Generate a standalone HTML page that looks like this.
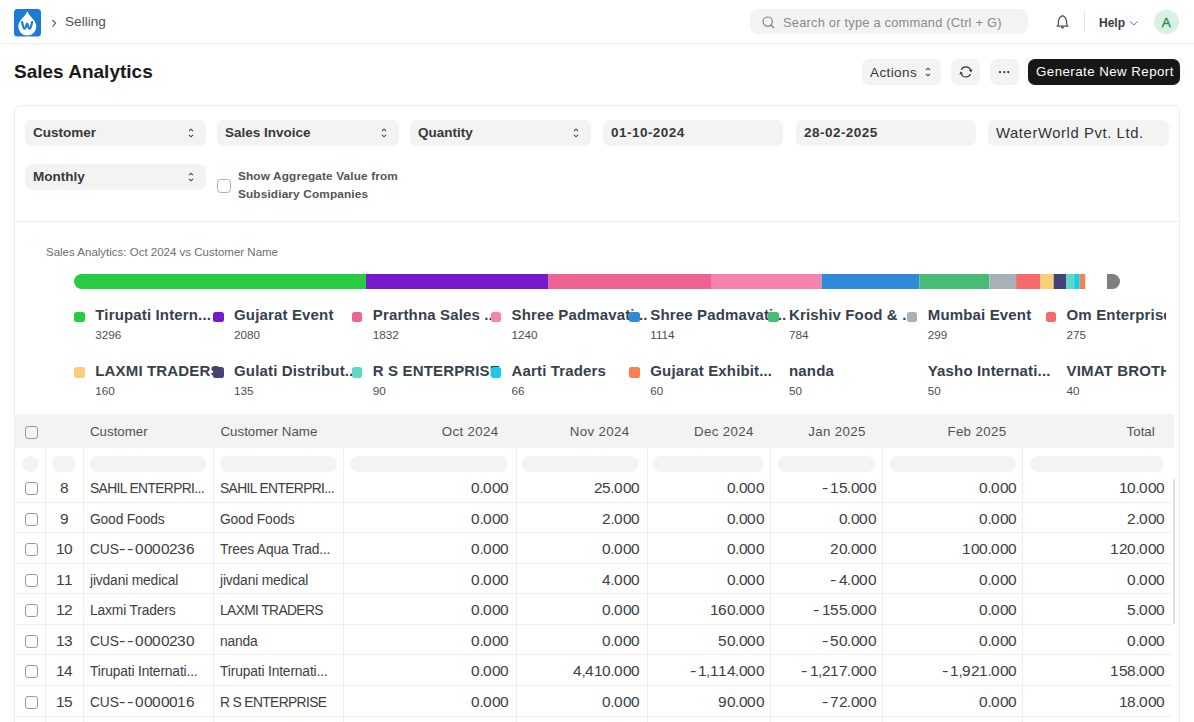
<!DOCTYPE html>
<html><head><meta charset="utf-8">
<style>
*{box-sizing:border-box;margin:0;padding:0}
html,body{width:1194px;height:722px;overflow:hidden;background:#fff;font-family:"Liberation Sans",sans-serif;color:#171717}
.a{position:absolute;white-space:nowrap}
#nav{position:absolute;left:0;top:0;width:1194px;height:44px;border-bottom:1px solid #f1f1f1;box-shadow:0 1px 2px rgba(0,0,0,.03);background:#fff}
.btn{position:absolute;background:#f3f3f3;border-radius:7px}
.card{position:absolute;left:14px;top:105px;width:1166px;height:640px;border:1px solid #ededed;border-radius:7px}
.fld{position:absolute;height:26px;background:#f3f3f3;border-radius:7px}
.fld span{position:absolute;left:8px;top:4.5px;font-size:13.5px;font-weight:bold;color:#383838}
.fld span.d{letter-spacing:.47px}
.sort{position:absolute;right:12px;top:8px;width:6px;height:10px}
.lg-sq{position:absolute;width:10.5px;height:10.5px;border-radius:2.5px}
.lg-t{position:absolute;font-size:15px;font-weight:bold;color:#36414c;white-space:nowrap;letter-spacing:.15px}
.lg-v{position:absolute;font-size:11.7px;color:#4e4e4e}
.th{position:absolute;top:424px;font-size:13.3px;color:#525252}
.hl{position:absolute;left:15px;width:1157px;height:1px;background:#efefef}
.vl{position:absolute;top:448px;width:1px;height:274px;background:#efefef}
.pill{position:absolute;top:456px;height:16px;border-radius:8px;background:#f3f3f3}
.row{position:absolute;left:15px;width:1157px;height:30px}
.c{position:absolute;font-size:13.8px;letter-spacing:-.15px;color:#404040;top:8px;white-space:nowrap}
.r{text-align:right}
.cap{letter-spacing:-.62px}
.c i{font-style:normal;display:inline-block;width:8.4px;text-align:center;transform:scaleX(1.12)}
.c i.h{transform:translateX(-1px) scaleX(1.4)}
.cb{position:absolute;left:10px;top:9px;width:13px;height:13px;border:1px solid #9a9a9a;border-radius:3px;background:#fff}
</style></head><body>
<div id="nav">
  <svg class="a" style="left:14px;top:9px" width="27" height="28" viewBox="0 0 27 28">
    <rect width="27" height="27.5" rx="3.5" fill="#1c7cd5"/>
    <path d="M13.3 2.2 C12.6 4.2 11.2 6 9.2 8.2 C6.3 11.3 4.3 14 4.3 17.6 A9 9 0 0 0 22.3 17.6 C22.3 14 20.3 11.3 17.4 8.2 C15.4 6 14 4.2 13.3 2.2 Z" fill="#fff"/>
    <path d="M8.1 13 C8.6 15.5 9.3 19.7 10.6 19.7 C11.8 19.7 12.5 15.2 13.1 14.6 C13.7 15.2 14.4 19.7 15.6 19.7 C16.9 19.7 17.6 15.5 18.1 13" fill="none" stroke="#1c7cd5" stroke-width="2.2" stroke-linecap="round" stroke-linejoin="round"/>
  </svg>
  <svg class="a" style="left:51px;top:19px" width="6" height="9" viewBox="0 0 6 9"><path d="M1.4 1 L4.6 4.3 L1.4 7.6" fill="none" stroke="#5a5a5a" stroke-width="1.15"/></svg>
  <div class="a" style="left:65px;top:14px;font-size:13.6px;color:#525252">Selling</div>
  <div class="btn" style="left:750px;top:9px;width:278px;height:25px;border-radius:8px"></div>
  <svg class="a" style="left:761px;top:15px" width="14" height="14" viewBox="0 0 14 14"><circle cx="6.7" cy="6.6" r="4.6" fill="none" stroke="#777" stroke-width="1.15"/><path d="M10.1 10.1 L12.6 12.6" stroke="#777" stroke-width="1.3" stroke-linecap="round"/></svg>
  <div class="a" style="left:783px;top:15px;font-size:12.9px;color:#8a8a8a;letter-spacing:.2px">Search or type a command (Ctrl + G)</div>
  <svg class="a" style="left:1055px;top:14px" width="16" height="16" viewBox="0 0 16 16"><path d="M3 11.9 C3.4 11 3.4 10 3.4 8 C3.4 4.8 5.2 2.6 7.5 1.6 C9.8 2.6 11.6 4.8 11.6 8 C11.6 10 11.6 11 12 11.9" fill="none" stroke="#505050" stroke-width="1.2" stroke-linejoin="round"/><path d="M1.9 12.1 H13.1" stroke="#505050" stroke-width="1.3" stroke-linecap="round"/><path d="M6.4 13.2 A1.1 1.1 0 0 0 8.6 13.2 Z" fill="#505050" stroke="#505050" stroke-width=".9"/></svg>
  <div class="a" style="left:1084px;top:12px;width:1px;height:20px;background:#e2e2e2"></div>
  <div class="a" style="left:1099px;top:16px;font-size:12px;font-weight:bold;color:#3a3a3a">Help</div>
  <svg class="a" style="left:1129px;top:20px" width="10" height="6" viewBox="0 0 10 6"><path d="M1.2 1.3 L4.9 5 L8.6 1.3" fill="none" stroke="#777" stroke-width="1"/></svg>
  <div class="a" style="left:1154px;top:9.5px;width:24.5px;height:24.5px;border-radius:50%;background:#d9f0e2;color:#2a8f52;font-size:13.5px;text-align:center;line-height:25px;-webkit-text-stroke:.35px #2a8f52">A</div>
</div>

<div class="a" style="left:14px;top:61px;font-size:19px;font-weight:bold;color:#1a1a1a">Sales Analytics</div>

<div class="btn" style="left:862px;top:59px;width:79px;height:26px"></div>
<div class="a" style="left:870px;top:64.5px;font-size:13.5px;color:#383838;letter-spacing:.4px">Actions</div>
<svg class="a" style="left:925px;top:67px" width="6" height="10" viewBox="0 0 6 10"><path d="M1 3.2 L3 1.2 L5 3.2 M1 6.8 L3 8.8 L5 6.8" fill="none" stroke="#444" stroke-width="1.1"/></svg>
<div class="btn" style="left:951px;top:59px;width:29px;height:26px"></div>
<svg class="a" style="left:958px;top:64px" width="16" height="16" viewBox="0 0 16 16"><path d="M3.28 5.74 A5.1 5.1 0 0 1 12.69 6.16 M12.52 10.06 A5.1 5.1 0 0 1 3.11 9.64" fill="none" stroke="#333" stroke-width="1.15"/><path d="M13.44 8.22 L14.38 5.22 L10.80 6.52 Z M2.36 7.58 L1.42 10.58 L5.00 9.28 Z" fill="#333"/></svg>
<div class="btn" style="left:990px;top:59px;width:29px;height:26px"></div>
<svg class="a" style="left:997px;top:70px" width="14" height="4" viewBox="0 0 14 4"><circle cx="3" cy="2.1" r="1.15" fill="#333"/><circle cx="7.3" cy="2.1" r="1.15" fill="#333"/><circle cx="11.3" cy="2.1" r="1.15" fill="#333"/></svg>
<div class="a" style="left:1028px;top:59px;width:152px;height:26px;background:#171717;border-radius:7px"></div>
<div class="a" style="left:1036px;top:64px;font-size:13.3px;color:#fff;letter-spacing:.45px">Generate New Report</div>

<div class="card"></div>
<!-- filters -->
<div class="fld" style="left:25px;top:120px;width:181px"><span>Customer</span><svg class="sort" viewBox="0 0 6 10"><path d="M1 3.2 L3 1.2 L5 3.2 M1 6.8 L3 8.8 L5 6.8" fill="none" stroke="#444" stroke-width="1.1"/></svg></div>
<div class="fld" style="left:217px;top:120px;width:182px"><span>Sales Invoice</span><svg class="sort" viewBox="0 0 6 10"><path d="M1 3.2 L3 1.2 L5 3.2 M1 6.8 L3 8.8 L5 6.8" fill="none" stroke="#444" stroke-width="1.1"/></svg></div>
<div class="fld" style="left:410px;top:120px;width:181px"><span>Quantity</span><svg class="sort" viewBox="0 0 6 10"><path d="M1 3.2 L3 1.2 L5 3.2 M1 6.8 L3 8.8 L5 6.8" fill="none" stroke="#444" stroke-width="1.1"/></svg></div>
<div class="fld" style="left:603px;top:120px;width:180px"><span class="d">01-10-2024</span></div>
<div class="fld" style="left:796px;top:120px;width:180px"><span class="d">28-02-2025</span></div>
<div class="fld" style="left:988px;top:120px;width:181px"><span style="font-weight:normal;font-size:14.8px;top:5px;color:#333;letter-spacing:.6px">WaterWorld Pvt. Ltd.</span></div>
<div class="fld" style="left:25px;top:164px;width:181px"><span>Monthly</span><svg class="sort" viewBox="0 0 6 10"><path d="M1 3.2 L3 1.2 L5 3.2 M1 6.8 L3 8.8 L5 6.8" fill="none" stroke="#444" stroke-width="1.1"/></svg></div>
<div class="a" style="left:217px;top:179px;width:13.5px;height:13.5px;border:1px solid #b0b0b0;border-radius:3.5px"></div>
<div class="a" style="left:238px;top:167px;font-size:11.8px;font-weight:bold;color:#555;line-height:18.4px;letter-spacing:.15px">Show Aggregate Value from<br>Subsidiary Companies</div>
<div class="a" style="left:15px;top:221px;width:1164px;height:1px;background:#ededed"></div>

<!-- chart -->
<div class="a" style="left:46px;top:245.5px;font-size:11.5px;color:#6e6e6e">Sales Analytics: Oct 2024 vs Customer Name</div>
<svg class="a" style="left:0;top:270.5px" width="1194" height="22">
  <defs><clipPath id="bc"><rect x="74" y="3" width="1046" height="15" rx="7.5"/></clipPath></defs>
  <g clip-path="url(#bc)">
    <rect x="74" y="3" width="292" height="15" fill="#28cc42"/>
    <rect x="366" y="3" width="182.5" height="15" fill="#761acb"/>
    <rect x="548.5" y="3" width="162.5" height="15" fill="#ec6394"/>
    <rect x="711" y="3" width="110.6" height="15" fill="#f683ae"/>
    <rect x="821.6" y="3" width="97.8" height="15" fill="#318ad8"/>
    <rect x="919.4" y="3" width="69.9" height="15" fill="#48bb74"/>
    <rect x="989.3" y="3" width="26.8" height="15" fill="#a6b1b9"/>
    <rect x="1016.1" y="3" width="23.9" height="15" fill="#f56b6b"/>
    <rect x="1040" y="3" width="13.7" height="15" fill="#facf7a"/>
    <rect x="1053.7" y="3" width="12.3" height="15" fill="#44427b"/>
    <rect x="1066" y="3" width="8.2" height="15" fill="#5fd8c4"/>
    <rect x="1074.2" y="3" width="5.5" height="15" fill="#15ccef"/>
    <rect x="1079.7" y="3" width="5.5" height="15" fill="#f8814f"/>
    <rect x="1107" y="3" width="13" height="15" fill="#7f7f7f"/>
  </g>
</svg>
<div class="a" style="left:15px;top:300px;width:1151px;height:105px;overflow:hidden"><div style="position:absolute;left:-15px;top:-300px"><div id="legend"><div class="lg-t" style="left:95.3px;top:306.0px">Tirupati Intern...</div><div class="lg-v" style="left:95.3px;top:328.0px">3296</div><div class="lg-t" style="left:234.05px;top:306.0px">Gujarat Event</div><div class="lg-v" style="left:234.05px;top:328.0px">2080</div><div class="lg-t" style="left:372.8px;top:306.0px">Prarthna Sales ...</div><div class="lg-v" style="left:372.8px;top:328.0px">1832</div><div class="lg-t" style="left:511.55px;top:306.0px">Shree Padmavati...</div><div class="lg-v" style="left:511.55px;top:328.0px">1240</div><div class="lg-t" style="left:650.3px;top:306.0px">Shree Padmavati...</div><div class="lg-v" style="left:650.3px;top:328.0px">1114</div><div class="lg-t" style="left:789.05px;top:306.0px">Krishiv Food &amp; ...</div><div class="lg-v" style="left:789.05px;top:328.0px">784</div><div class="lg-t" style="left:927.8px;top:306.0px">Mumbai Event</div><div class="lg-v" style="left:927.8px;top:328.0px">299</div><div class="lg-t" style="left:1066.55px;top:306.0px">Om Enterprise</div><div class="lg-v" style="left:1066.55px;top:328.0px">275</div><div class="lg-t" style="left:95.3px;top:361.5px">LAXMI TRADERS</div><div class="lg-v" style="left:95.3px;top:383.5px">160</div><div class="lg-t" style="left:234.05px;top:361.5px">Gulati Distribut...</div><div class="lg-v" style="left:234.05px;top:383.5px">135</div><div class="lg-t" style="left:372.8px;top:361.5px">R S ENTERPRISE</div><div class="lg-v" style="left:372.8px;top:383.5px">90</div><div class="lg-t" style="left:511.55px;top:361.5px">Aarti Traders</div><div class="lg-v" style="left:511.55px;top:383.5px">66</div><div class="lg-t" style="left:650.3px;top:361.5px">Gujarat Exhibit...</div><div class="lg-v" style="left:650.3px;top:383.5px">60</div><div class="lg-t" style="left:789.05px;top:361.5px">nanda</div><div class="lg-v" style="left:789.05px;top:383.5px">50</div><div class="lg-t" style="left:927.8px;top:361.5px">Yasho Internati...</div><div class="lg-v" style="left:927.8px;top:383.5px">50</div><div class="lg-t" style="left:1066.55px;top:361.5px">VIMAT BROTHERS</div><div class="lg-v" style="left:1066.55px;top:383.5px">40</div><div class="lg-sq" style="left:74.3px;top:311.5px;background:#28cc42"></div><div class="lg-sq" style="left:213.05px;top:311.5px;background:#761acb"></div><div class="lg-sq" style="left:351.8px;top:311.5px;background:#ec6394"></div><div class="lg-sq" style="left:490.55px;top:311.5px;background:#f683ae"></div><div class="lg-sq" style="left:629.3px;top:311.5px;background:#318ad8"></div><div class="lg-sq" style="left:768.05px;top:311.5px;background:#48bb74"></div><div class="lg-sq" style="left:906.8px;top:311.5px;background:#a6b1b9"></div><div class="lg-sq" style="left:1045.55px;top:311.5px;background:#f56b6b"></div><div class="lg-sq" style="left:74.3px;top:367.0px;background:#facf7a"></div><div class="lg-sq" style="left:213.05px;top:367.0px;background:#44427b"></div><div class="lg-sq" style="left:351.8px;top:367.0px;background:#5fd8c4"></div><div class="lg-sq" style="left:490.55px;top:367.0px;background:#15ccef"></div><div class="lg-sq" style="left:629.3px;top:367.0px;background:#f8814f"></div></div></div></div>

<!-- table -->
<div class="a" style="left:15px;top:414px;width:1159px;height:34px;background:#f3f3f3"></div>
<div class="a" style="left:25px;top:426px;width:13px;height:13px;border:1px solid #9a9a9a;border-radius:3px;background:#f3f3f3"></div>
<div id="tbl"><div class="th" style="left:90.0px">Customer</div><div class="th" style="left:220.5px">Customer Name</div><div class="th r" style="right:695.5px;letter-spacing:0.35px">Oct 2024</div><div class="th r" style="right:564.5px;letter-spacing:0.35px">Nov 2024</div><div class="th r" style="right:440.29999999999995px;letter-spacing:0.35px">Dec 2024</div><div class="th r" style="right:328.29999999999995px;letter-spacing:0.35px">Jan 2025</div><div class="th r" style="right:187.60000000000002px;letter-spacing:0.35px">Feb 2025</div><div class="th r" style="right:39.299999999999955px;letter-spacing:0px">Total</div><div class="vl" style="left:45px"></div><div class="vl" style="left:82.5px"></div><div class="vl" style="left:213px"></div><div class="vl" style="left:343px"></div><div class="vl" style="left:516px"></div><div class="vl" style="left:647px"></div><div class="vl" style="left:770px"></div><div class="vl" style="left:882px"></div><div class="vl" style="left:1022px"></div><div class="pill" style="left:22px;width:17px"></div><div class="pill" style="left:52px;width:24px"></div><div class="pill" style="left:90px;width:116px"></div><div class="pill" style="left:220px;width:117px"></div><div class="pill" style="left:350px;width:158px"></div><div class="pill" style="left:522px;width:117px"></div><div class="pill" style="left:653px;width:111px"></div><div class="pill" style="left:778px;width:97px"></div><div class="pill" style="left:890px;width:126px"></div><div class="pill" style="left:1030px;width:134px"></div><div class="hl" style="top:502px"></div><div class="a cb" style="left:25px;top:482px"></div><div class="a c" style="left:45px;width:38px;text-align:center;top:481px"><i>8</i></div><div class="a c cap" style="left:90px;top:481px">SAHIL ENTERPRI...</div><div class="a c cap" style="left:220px;top:481px">SAHIL ENTERPRI...</div><div class="a c r" style="right:685.4px;top:481px"><i>0</i>.<i>0</i><i>0</i><i>0</i></div><div class="a c r" style="right:554.6px;top:481px"><i>2</i><i>5</i>.<i>0</i><i>0</i><i>0</i></div><div class="a c r" style="right:430px;top:481px"><i>0</i>.<i>0</i><i>0</i><i>0</i></div><div class="a c r" style="right:318.1px;top:481px"><i class="h">-</i><i>1</i><i>5</i>.<i>0</i><i>0</i><i>0</i></div><div class="a c r" style="right:177.5px;top:481px"><i>0</i>.<i>0</i><i>0</i><i>0</i></div><div class="a c r" style="right:29.5px;top:481px"><i>1</i><i>0</i>.<i>0</i><i>0</i><i>0</i></div><div class="hl" style="top:532px"></div><div class="a cb" style="left:25px;top:513px"></div><div class="a c" style="left:45px;width:38px;text-align:center;top:512px"><i>9</i></div><div class="a c" style="left:90px;top:512px">Good Foods</div><div class="a c" style="left:220px;top:512px">Good Foods</div><div class="a c r" style="right:685.4px;top:512px"><i>0</i>.<i>0</i><i>0</i><i>0</i></div><div class="a c r" style="right:554.6px;top:512px"><i>2</i>.<i>0</i><i>0</i><i>0</i></div><div class="a c r" style="right:430px;top:512px"><i>0</i>.<i>0</i><i>0</i><i>0</i></div><div class="a c r" style="right:318.1px;top:512px"><i>0</i>.<i>0</i><i>0</i><i>0</i></div><div class="a c r" style="right:177.5px;top:512px"><i>0</i>.<i>0</i><i>0</i><i>0</i></div><div class="a c r" style="right:29.5px;top:512px"><i>2</i>.<i>0</i><i>0</i><i>0</i></div><div class="hl" style="top:563px"></div><div class="a cb" style="left:25px;top:543px"></div><div class="a c" style="left:45px;width:38px;text-align:center;top:542px"><i>1</i><i>0</i></div><div class="a c" style="left:90px;top:542px">CUS<i class="h">-</i><i class="h">-</i><i>0</i><i>0</i><i>0</i><i>0</i><i>2</i><i>3</i><i>6</i></div><div class="a c" style="left:220px;top:542px">Trees Aqua Trad...</div><div class="a c r" style="right:685.4px;top:542px"><i>0</i>.<i>0</i><i>0</i><i>0</i></div><div class="a c r" style="right:554.6px;top:542px"><i>0</i>.<i>0</i><i>0</i><i>0</i></div><div class="a c r" style="right:430px;top:542px"><i>0</i>.<i>0</i><i>0</i><i>0</i></div><div class="a c r" style="right:318.1px;top:542px"><i>2</i><i>0</i>.<i>0</i><i>0</i><i>0</i></div><div class="a c r" style="right:177.5px;top:542px"><i>1</i><i>0</i><i>0</i>.<i>0</i><i>0</i><i>0</i></div><div class="a c r" style="right:29.5px;top:542px"><i>1</i><i>2</i><i>0</i>.<i>0</i><i>0</i><i>0</i></div><div class="hl" style="top:593px"></div><div class="a cb" style="left:25px;top:574px"></div><div class="a c" style="left:45px;width:38px;text-align:center;top:573px"><i>1</i><i>1</i></div><div class="a c" style="left:90px;top:573px">jivdani medical</div><div class="a c" style="left:220px;top:573px">jivdani medical</div><div class="a c r" style="right:685.4px;top:573px"><i>0</i>.<i>0</i><i>0</i><i>0</i></div><div class="a c r" style="right:554.6px;top:573px"><i>4</i>.<i>0</i><i>0</i><i>0</i></div><div class="a c r" style="right:430px;top:573px"><i>0</i>.<i>0</i><i>0</i><i>0</i></div><div class="a c r" style="right:318.1px;top:573px"><i class="h">-</i><i>4</i>.<i>0</i><i>0</i><i>0</i></div><div class="a c r" style="right:177.5px;top:573px"><i>0</i>.<i>0</i><i>0</i><i>0</i></div><div class="a c r" style="right:29.5px;top:573px"><i>0</i>.<i>0</i><i>0</i><i>0</i></div><div class="hl" style="top:624px"></div><div class="a cb" style="left:25px;top:604px"></div><div class="a c" style="left:45px;width:38px;text-align:center;top:603px"><i>1</i><i>2</i></div><div class="a c" style="left:90px;top:603px">Laxmi Traders</div><div class="a c cap" style="left:220px;top:603px">LAXMI TRADERS</div><div class="a c r" style="right:685.4px;top:603px"><i>0</i>.<i>0</i><i>0</i><i>0</i></div><div class="a c r" style="right:554.6px;top:603px"><i>0</i>.<i>0</i><i>0</i><i>0</i></div><div class="a c r" style="right:430px;top:603px"><i>1</i><i>6</i><i>0</i>.<i>0</i><i>0</i><i>0</i></div><div class="a c r" style="right:318.1px;top:603px"><i class="h">-</i><i>1</i><i>5</i><i>5</i>.<i>0</i><i>0</i><i>0</i></div><div class="a c r" style="right:177.5px;top:603px"><i>0</i>.<i>0</i><i>0</i><i>0</i></div><div class="a c r" style="right:29.5px;top:603px"><i>5</i>.<i>0</i><i>0</i><i>0</i></div><div class="hl" style="top:654px"></div><div class="a cb" style="left:25px;top:635px"></div><div class="a c" style="left:45px;width:38px;text-align:center;top:634px"><i>1</i><i>3</i></div><div class="a c" style="left:90px;top:634px">CUS<i class="h">-</i><i class="h">-</i><i>0</i><i>0</i><i>0</i><i>0</i><i>2</i><i>3</i><i>0</i></div><div class="a c" style="left:220px;top:634px">nanda</div><div class="a c r" style="right:685.4px;top:634px"><i>0</i>.<i>0</i><i>0</i><i>0</i></div><div class="a c r" style="right:554.6px;top:634px"><i>0</i>.<i>0</i><i>0</i><i>0</i></div><div class="a c r" style="right:430px;top:634px"><i>5</i><i>0</i>.<i>0</i><i>0</i><i>0</i></div><div class="a c r" style="right:318.1px;top:634px"><i class="h">-</i><i>5</i><i>0</i>.<i>0</i><i>0</i><i>0</i></div><div class="a c r" style="right:177.5px;top:634px"><i>0</i>.<i>0</i><i>0</i><i>0</i></div><div class="a c r" style="right:29.5px;top:634px"><i>0</i>.<i>0</i><i>0</i><i>0</i></div><div class="hl" style="top:685px"></div><div class="a cb" style="left:25px;top:665px"></div><div class="a c" style="left:45px;width:38px;text-align:center;top:664px"><i>1</i><i>4</i></div><div class="a c" style="left:90px;top:664px">Tirupati Internati...</div><div class="a c" style="left:220px;top:664px">Tirupati Internati...</div><div class="a c r" style="right:685.4px;top:664px"><i>0</i>.<i>0</i><i>0</i><i>0</i></div><div class="a c r" style="right:554.6px;top:664px"><i>4</i>,<i>4</i><i>1</i><i>0</i>.<i>0</i><i>0</i><i>0</i></div><div class="a c r" style="right:430px;top:664px"><i class="h">-</i><i>1</i>,<i>1</i><i>1</i><i>4</i>.<i>0</i><i>0</i><i>0</i></div><div class="a c r" style="right:318.1px;top:664px"><i class="h">-</i><i>1</i>,<i>2</i><i>1</i><i>7</i>.<i>0</i><i>0</i><i>0</i></div><div class="a c r" style="right:177.5px;top:664px"><i class="h">-</i><i>1</i>,<i>9</i><i>2</i><i>1</i>.<i>0</i><i>0</i><i>0</i></div><div class="a c r" style="right:29.5px;top:664px"><i>1</i><i>5</i><i>8</i>.<i>0</i><i>0</i><i>0</i></div><div class="hl" style="top:716px"></div><div class="a cb" style="left:25px;top:696px"></div><div class="a c" style="left:45px;width:38px;text-align:center;top:695px"><i>1</i><i>5</i></div><div class="a c" style="left:90px;top:695px">CUS<i class="h">-</i><i class="h">-</i><i>0</i><i>0</i><i>0</i><i>0</i><i>0</i><i>1</i><i>6</i></div><div class="a c cap" style="left:220px;top:695px">R S ENTERPRISE</div><div class="a c r" style="right:685.4px;top:695px"><i>0</i>.<i>0</i><i>0</i><i>0</i></div><div class="a c r" style="right:554.6px;top:695px"><i>0</i>.<i>0</i><i>0</i><i>0</i></div><div class="a c r" style="right:430px;top:695px"><i>9</i><i>0</i>.<i>0</i><i>0</i><i>0</i></div><div class="a c r" style="right:318.1px;top:695px"><i class="h">-</i><i>7</i><i>2</i>.<i>0</i><i>0</i><i>0</i></div><div class="a c r" style="right:177.5px;top:695px"><i>0</i>.<i>0</i><i>0</i><i>0</i></div><div class="a c r" style="right:29.5px;top:695px"><i>1</i><i>8</i>.<i>0</i><i>0</i><i>0</i></div></div>
<div class="a" style="left:1172.5px;top:479px;width:2px;height:145px;background:#dedede;border-radius:1px"></div>
</body></html>
